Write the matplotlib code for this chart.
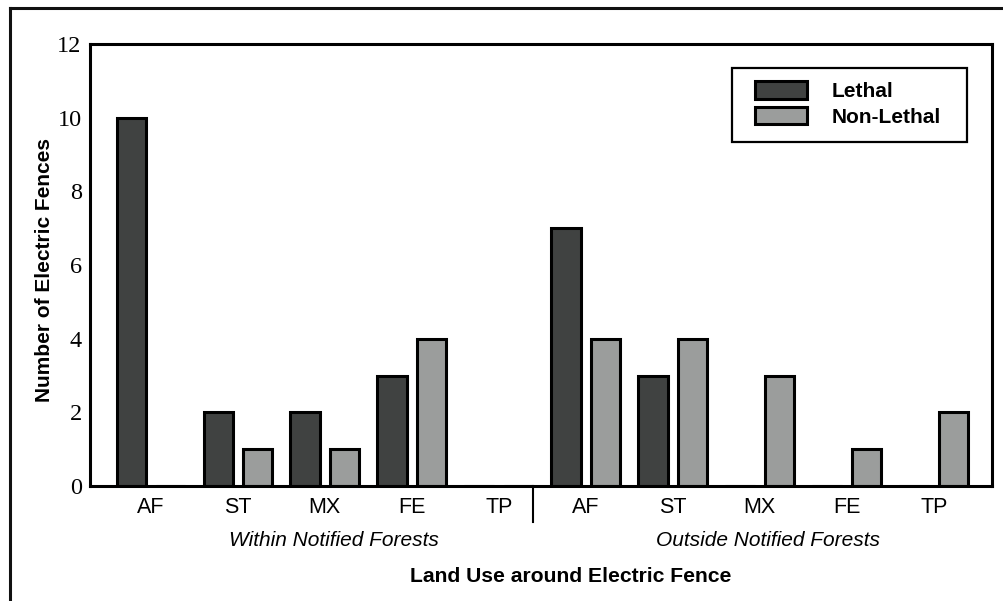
import numpy as np
import matplotlib
matplotlib.use("Agg")
import matplotlib.pyplot as plt
from matplotlib.lines import Line2D
from matplotlib.patches import Rectangle
import matplotlib.transforms as mtransforms

# data
land_use = ["AF", "ST", "MX", "FE", "TP", "AF", "ST", "MX", "FE", "TP"]
lethal = [10, 2, 2, 3, 0, 7, 3, 0, 0, 0]
non_lethal = [0, 1, 1, 4, 0, 4, 4, 3, 1, 2]
groups = ["Within Notified Forests", "Outside Notified Forests"]

DARK = "#404241"
LIGHT = "#9b9d9c"

fig = plt.figure(figsize=(10.04, 6.01), dpi=100)
ax = fig.add_axes([90 / 1004, 115 / 601, 902 / 1004, 442 / 601])

x = np.arange(len(land_use))
w = 0.34
off = 0.225
ax.bar(x - off, lethal, w, color=DARK, edgecolor="black", linewidth=2.2, label="Lethal")
ax.bar(x + off, non_lethal, w, color=LIGHT, edgecolor="black", linewidth=2.2, label="Non-Lethal")

ax.set_xlim(-0.7, 9.67)
ax.set_ylim(0, 12)
ax.set_yticks(range(0, 13, 2))
ax.set_xticks(x)
ax.set_xticklabels(land_use, fontfamily="Liberation Sans", fontsize=15.5)
for t in ax.get_yticklabels():
    t.set_fontfamily("Liberation Serif")
    t.set_fontsize(17.5)
ax.tick_params(axis="both", length=0)
ax.tick_params(axis="x", pad=8)
ax.tick_params(axis="y", pad=6)
for s in ax.spines.values():
    s.set_linewidth(2.2)

# separator between the two groups
trans = mtransforms.blended_transform_factory(ax.transData, ax.transAxes)
ax.add_line(Line2D([4.39, 4.39], [0, -36 / 442], transform=trans, color="black",
                   linewidth=1.5, clip_on=False))

# group labels
for gx, g in zip([2.1, 7.1], groups):
    ax.text(gx, -55 / 442, g, transform=trans, ha="center", va="center",
            fontfamily="Liberation Sans", fontstyle="italic", fontsize=15)

fig.text(571 / 1004, 1 - 577 / 601, "Land Use around Electric Fence", ha="center", va="center",
         fontfamily="Liberation Sans", fontweight="bold", fontsize=15.2)
fig.text(45 / 1004, 1 - 270 / 601, "Number of Electric Fences", ha="center", va="center",
         rotation=90, fontfamily="Liberation Sans", fontweight="bold", fontsize=15)

# legend entries without frame, frame drawn separately (wider side padding)
leg = ax.legend(loc="upper left", bbox_to_anchor=(755 / 1004, 1 - 81 / 601),
                bbox_transform=fig.transFigure, frameon=False, borderpad=0,
                handlelength=2.5, handleheight=0.92, handletextpad=1.2,
                labelspacing=0.28, borderaxespad=0,
                prop={"family": "Liberation Sans", "weight": "bold", "size": 15})
fig.add_artist(Rectangle((732 / 1004, 1 - 142 / 601), 235 / 1004, 74 / 601,
                         transform=fig.transFigure, facecolor="none",
                         edgecolor="black", linewidth=1.6))

# outer frame (left and top only visible)
fig.add_artist(Line2D([10 / 1004, 10 / 1004], [0, 1 - 8 / 601], transform=fig.transFigure,
                      color="#111111", linewidth=2.2))
fig.add_artist(Line2D([10 / 1004, 1], [1 - 8 / 601, 1 - 8 / 601], transform=fig.transFigure,
                      color="#111111", linewidth=2.2))

fig.savefig("out.png", dpi=100)
